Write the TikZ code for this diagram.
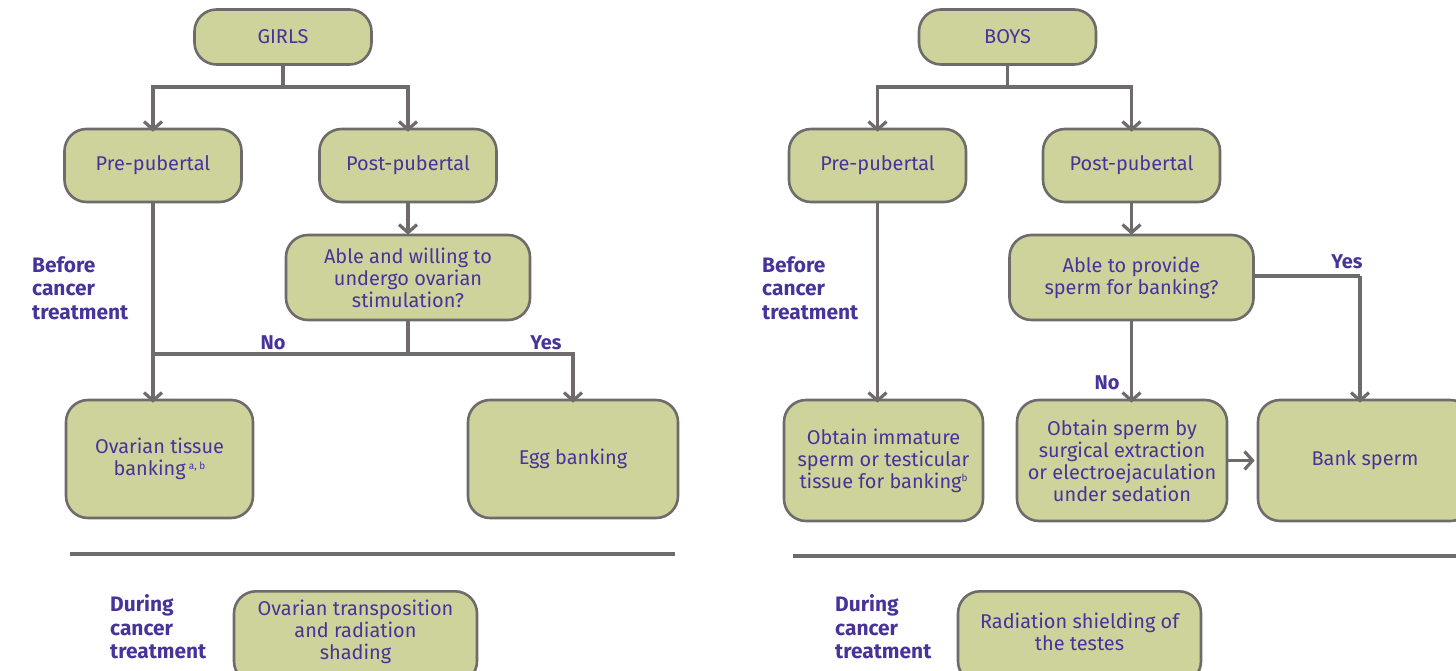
\documentclass[tikz,border=0pt]{standalone}
\usepackage{fontspec}
\setmainfont{Fira Sans}
\usetikzlibrary{arrows.meta}
\definecolor{boxfill}{HTML}{CDD39B}
\definecolor{boxline}{HTML}{6F6B6B}
\definecolor{txt}{HTML}{47339A}
\tikzset{
  box/.style={draw=boxline, line width=2.6bp, fill=boxfill, rounded corners=22bp,
    align=center, text=txt, font=\fontsize{20}{22}\selectfont, inner sep=0pt},
  conn/.style={draw=boxline, line width=3.2bp},
  arr/.style={conn, -{Straight Barb[length=8bp,width=18bp,line width=3.2bp]}},
  side/.style={text=txt, font=\bfseries\fontsize{21}{24}\selectfont, align=left, anchor=north west, inner sep=0pt},
  lab/.style={text=txt, font=\bfseries\fontsize{20}{22}\selectfont, inner sep=0pt},
  rule/.style={draw=boxline, line width=3.5bp}
}
\begin{document}
\begin{tikzpicture}[x=1bp,y=-1bp]
\useasboundingbox (0,0) rectangle (1456,671);
% ---------- GIRLS ----------
\node[box, minimum width=177bp, minimum height=55bp] (girls) at (283,37) {GIRLS};
\node[box, minimum width=177bp, minimum height=73bp] (gpre) at (153,165.5) {Pre-pubertal};
\node[box, minimum width=177bp, minimum height=73bp] (gpost) at (408,165.5) {Post-pubertal};
\node[box, minimum width=244bp, minimum height=85bp] (gable) at (408,277.5) {Able and willing to\\undergo ovarian\\stimulation?};
\node[box, minimum width=187bp, minimum height=118bp] (gtissue) at (159.5,459) {Ovarian tissue\\banking\,\raisebox{0.6ex}{\fontsize{10}{10}\selectfont a, b}};
\node[box, minimum width=210bp, minimum height=118bp] (gegg) at (573,459) {Egg banking};
\node[box, minimum width=243bp, minimum height=92bp, anchor=north] (gtrans) at (355.5,590) {};
\node[text=txt, font=\fontsize{20}{22}\selectfont, align=center, inner sep=0pt] (gtranst) at (355.5,631.5) {Ovarian transposition\\and radiation\\shading};

\coordinate (gj1) at (283,87);
\coordinate (gj2) at (408,354);
\draw[conn] (girls.south) -- (gj1);
\draw[arr] (gj1) -| ([yshift=-4bp]gpre.north);
\draw[arr] (gj1) -| ([yshift=-4bp]gpost.north);
\draw[arr] (gpost.south) -- ([yshift=-1bp]gable.north);
\draw[arr] (gpre.south) -- ([yshift=-4bp]gtissue.north -| gpre.south);
\draw[conn] (gable.south) -- (gj2);
\draw[conn] (gj2) -- (gj2 -| gpre.south);
\draw[arr] (gj2) -| ([yshift=-4bp]gegg.north);
\node[lab] (gno) at (273,343) {No};
\node[lab] (gyes) at (546,343) {Yes};

\node[side] (gbefore) at (32,256) {Before\\cancer\\treatment};
\coordinate (gr1) at (70,554);
\coordinate (gr2) at (675,554);
\draw[rule] (gr1) -- (gr2);
\node[side] (gduring) at (110,594) {During\\cancer\\treatment};

% ---------- BOYS ----------
\node[box, minimum width=177bp, minimum height=55bp] (boys) at (1007.5,37) {BOYS};
\node[box, minimum width=177bp, minimum height=73bp] (bpre) at (877.5,165.5) {Pre-pubertal};
\node[box, minimum width=177bp, minimum height=73bp] (bpost) at (1131.5,165.5) {Post-pubertal};
\node[box, minimum width=244bp, minimum height=85bp] (bable) at (1131.5,277.5) {Able to provide\\sperm for banking?};
\node[box, minimum width=199bp, minimum height=121bp] (bimm) at (883.5,460.5) {Obtain immature\\sperm or testicular\\tissue for banking\raisebox{0.6ex}{\fontsize{10}{10}\selectfont b}};
\node[box, minimum width=210bp, minimum height=121bp] (bobt) at (1122,460.5) {Obtain sperm by\\surgical extraction\\or electroejaculation\\under sedation};
\node[box, minimum width=214bp, minimum height=121bp] (bbank) at (1365,460.5) {Bank sperm};
\node[box, minimum width=243bp, minimum height=92bp, anchor=north] (bshield) at (1079.5,590) {};
\node[text=txt, font=\fontsize{20}{22}\selectfont, align=center, inner sep=0pt] (bshieldt) at (1079.5,632) {Radiation shielding of\\the testes};

\coordinate (bj1) at (1007.5,87);
\coordinate (bj2) at (1360,276);
\draw[conn] (boys.south) -- (bj1);
\draw[arr] (bj1) -| ([yshift=-4bp]bpre.north);
\draw[arr] (bj1) -| ([yshift=-4bp]bpost.north);
\draw[arr] (bpost.south) -- ([yshift=-1bp]bable.north);
\draw[arr] (bpre.south) -- ([yshift=-4bp]bimm.north -| bpre.south);
\draw[arr] (bable.south) -- ([yshift=-4bp]bobt.north -| bable.south);
\draw[conn] (bable.east |- bj2) -- (bj2);
\draw[arr] (bj2) -- ([yshift=-4bp]bbank.north -| bj2);
\draw[arr] (bobt.east) -- ([xshift=-2bp]bbank.west);
\node[lab] (bno) at (1107,383) {No};
\node[lab] (byes) at (1347,262) {Yes};

\node[side] (bbefore) at (762,256) {Before\\cancer\\treatment};
\coordinate (br1) at (793,556);
\coordinate (br2) at (1456,556);
\draw[rule] (br1) -- (br2);
\node[side] (bduring) at (835,594) {During\\cancer\\treatment};
\end{tikzpicture}
\end{document}
